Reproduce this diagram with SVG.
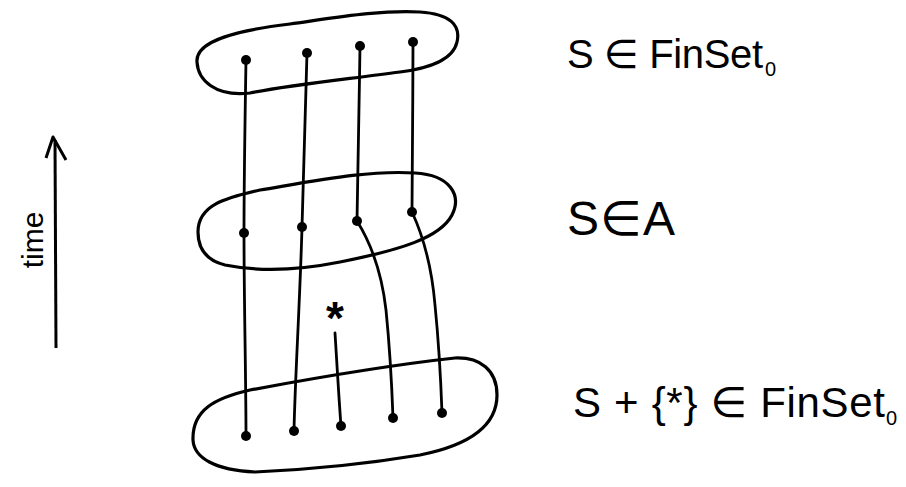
<svg xmlns="http://www.w3.org/2000/svg" width="906" height="487" viewBox="0 0 906 487">
<style>
.blob{fill:none;stroke:#000;stroke-width:3.2;stroke-linejoin:round}
.strand{fill:none;stroke:#000;stroke-width:2.8;stroke-linecap:round}
.dot{fill:#000}
.lbl{font-family:"Liberation Sans","DejaVu Sans",sans-serif;fill:#000}
.sub{font-family:"Liberation Sans","DejaVu Sans",sans-serif;fill:#000;font-size:20px}
</style>
<rect width="906" height="487" fill="#fff"/>
<g id="connectors">
  <path class="strand" d="M246,60 C245,120 244,180 244,233 C244,300 246,380 246,436"/>
  <path class="strand" d="M307,53 C305,120 303,180 302,227 C300,300 295,380 294,431"/>
  <path class="strand" d="M360,46 C359,110 358,180 357,221 C372,245 382,275 386,310 C390,350 392,390 393,418"/>
  <path class="strand" d="M413,42 C413,100 412,170 412,212 C425,240 432,270 435,305 C439,345 441,385 442,413"/>
  <path class="strand" d="M335,333 C337,365 339,400 341,426"/>
</g>
<g id="top-set">
  <path class="blob" d="M197,62 C195,40 240,30 290,24 C340,17 380,10 420,12 C450,14 461,25 457,42 C453,60 430,68 400,72 C340,80 290,85 250,93 C215,97 198,80 197,62 Z"/>
  <circle class="dot" cx="246" cy="60" r="5"/>
  <circle class="dot" cx="307" cy="53" r="5"/>
  <circle class="dot" cx="360" cy="46" r="5"/>
  <circle class="dot" cx="413" cy="42" r="5"/>
</g>
<g id="middle-set">
  <path class="blob" d="M198,232 C198,205 225,198 260,190 C320,180 370,170 415,173 C450,175 462,195 452,215 C440,238 400,250 340,262 C300,270 260,272 225,265 C205,260 198,248 198,232 Z"/>
  <circle class="dot" cx="244" cy="233" r="5"/>
  <circle class="dot" cx="302" cy="227" r="5"/>
  <circle class="dot" cx="357" cy="221" r="5"/>
  <circle class="dot" cx="412" cy="212" r="5"/>
</g>
<g id="bottom-set">
  <path class="blob" d="M193,440 C192,410 215,398 250,390 C320,377 390,365 455,358 C480,357 497,370 497,395 C497,425 470,445 420,455 C360,465 300,470 255,472 C215,470 194,458 193,440 Z"/>
  <circle class="dot" cx="246" cy="436" r="5"/>
  <circle class="dot" cx="294" cy="431" r="5"/>
  <circle class="dot" cx="341" cy="426" r="5"/>
  <circle class="dot" cx="393" cy="418" r="5"/>
  <circle class="dot" cx="442" cy="413" r="5"/>
</g>
<g id="star">
  <text class="lbl" x="335" y="334" font-size="46" font-weight="bold" text-anchor="middle">*</text>
</g>
<g id="time-axis">
  <path d="M56,348 L55,140" stroke="#000" stroke-width="3" fill="none"/>
  <path d="M46,158 L53,137 L66,160" stroke="#000" stroke-width="3" fill="none" stroke-linejoin="round"/>
  <text class="lbl" font-size="30" text-anchor="middle" transform="translate(43,240) rotate(-90)">time</text>
</g>
<g id="label-top">
  <text class="lbl" x="567" y="68" font-size="40" textLength="196" lengthAdjust="spacing">S ∈ FinSet</text>
  <text class="sub" x="765" y="76">0</text>
</g>
<g id="label-middle">
  <text class="lbl" x="567" y="235" font-size="48" textLength="108" lengthAdjust="spacing">S∈A</text>
</g>
<g id="label-bottom">
  <text class="lbl" x="573" y="417" font-size="42" textLength="312" lengthAdjust="spacing">S + {*} ∈ FinSet</text>
  <text class="sub" x="886" y="425">0</text>
</g>
</svg>
